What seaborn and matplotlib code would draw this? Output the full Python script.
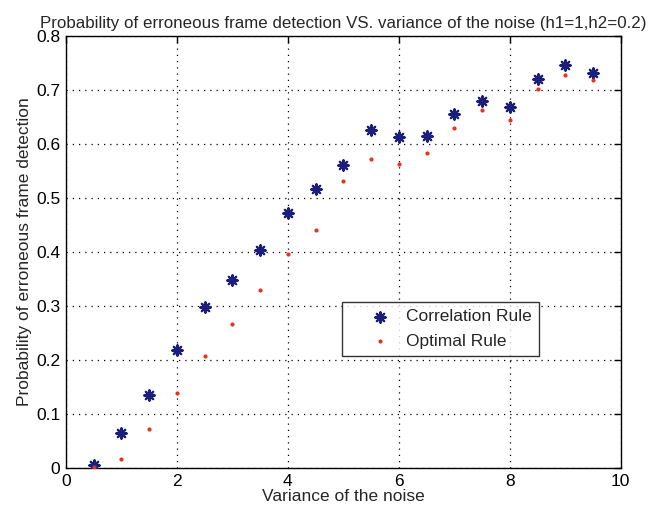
import matplotlib
matplotlib.use("Agg")
import matplotlib.pyplot as plt
import seaborn as sns
import pandas as pd

# Noise variance values and detection error probabilities
variance = [0.5, 1.0, 1.5, 2.0, 2.5, 3.0, 3.5, 4.0, 4.5, 5.0,
            5.5, 6.0, 6.5, 7.0, 7.5, 8.0, 8.5, 9.0, 9.5]
correlation_rule = [0.006, 0.065, 0.136, 0.219, 0.298, 0.349, 0.403, 0.472, 0.517, 0.562,
                    0.626, 0.614, 0.615, 0.655, 0.680, 0.668, 0.720, 0.746, 0.731]
optimal_rule = [0.002, 0.017, 0.072, 0.139, 0.207, 0.267, 0.329, 0.397, 0.441, 0.531,
                0.572, 0.563, 0.584, 0.630, 0.664, 0.644, 0.702, 0.728, 0.719]

x_ticks = [0, 2, 4, 6, 8, 10]
y_ticks = [0, 0.1, 0.2, 0.3, 0.4, 0.5, 0.6, 0.7, 0.8]
y_tick_labels = ["0", "0.1", "0.2", "0.3", "0.4", "0.5", "0.6", "0.7", "0.8"]

sns.set_theme(style="white")
plt.rcParams["font.family"] = ["Liberation Sans", "DejaVu Sans"]

df_corr = pd.DataFrame({"variance": variance, "p": correlation_rule})
df_opt = pd.DataFrame({"variance": variance, "p": optimal_rule})

fig = plt.figure(figsize=(6.5, 5.16), dpi=100)
ax = fig.add_axes([0.1015, 0.093, 0.8535, 0.837])

sns.scatterplot(data=df_corr, x="variance", y="p", ax=ax, marker=(8, 2, 0),
                s=55, color="#1c1f7a", linewidth=1.6, edgecolor="#1c1f7a",
                label="Correlation Rule", zorder=3)
sns.scatterplot(data=df_opt, x="variance", y="p", ax=ax, marker="o",
                s=9, color="#e8321e", linewidth=0, label="Optimal Rule", zorder=4)

ax.set_xlim(0, 10)
ax.set_ylim(0, 0.8)
ax.set_xticks(x_ticks)
ax.set_yticks(y_ticks)
ax.set_xticklabels([str(t) for t in x_ticks])
ax.set_yticklabels(y_tick_labels)
ax.tick_params(direction="in", length=5, width=1, top=True, right=True,
               labelsize=12.5, colors="black", pad=4)

ax.grid(True, linestyle=(0, (1, 4)), color="black", linewidth=0.9)
for sp in ax.spines.values():
    sp.set_color("black")
    sp.set_linewidth(1.0)

ax.set_xlabel("Variance of the noise", fontsize=12.5, labelpad=0)
ax.set_ylabel("Probability of erroneous frame detection", fontsize=12.5, labelpad=3)
ax.set_title("Probability of erroneous frame detection VS. variance of the noise (h1=1,h2=0.2)",
             fontsize=12.2, pad=6)

leg = ax.legend(loc="upper left", bbox_to_anchor=(0.497, 0.384), borderaxespad=0,
                frameon=True, fancybox=False, edgecolor="black", fontsize=12.5,
                borderpad=0.4, handletextpad=-0.3, labelspacing=0.55, handlelength=3.6)
leg.get_frame().set_linewidth(1.0)

fig.savefig("out.png", dpi=100, facecolor="white")
